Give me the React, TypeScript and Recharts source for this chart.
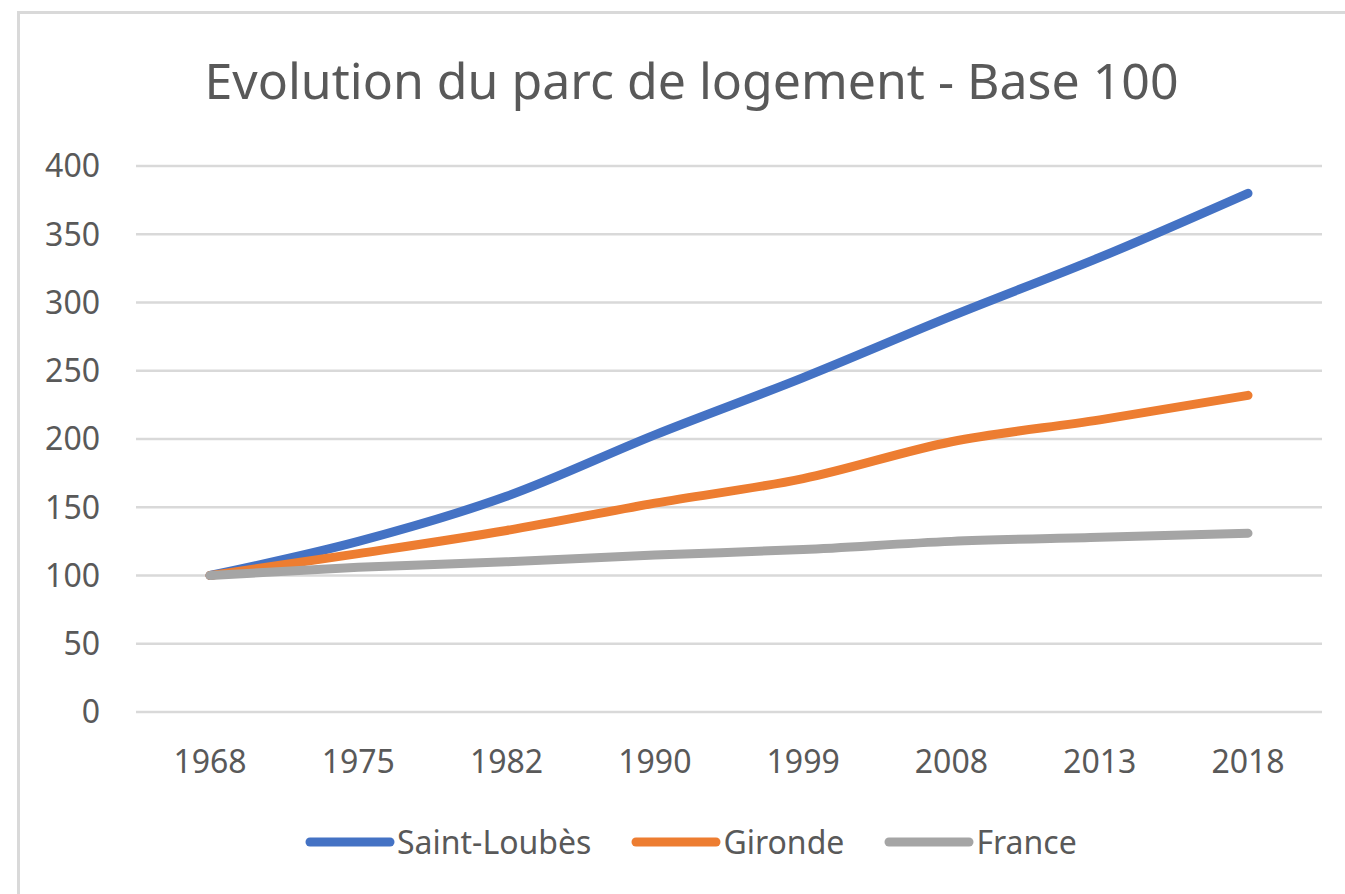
import React from 'react';
import { LineChart, Line, XAxis, YAxis, CartesianGrid, Legend } from 'recharts';

const years = ['1968', '1975', '1982', '1990', '1999', '2008', '2013', '2018'];
const seriesNames = ['Saint-Loubès', 'Gironde', 'France'];
const saintLoubes = [100, 125, 158, 203, 245, 290, 333, 380];
const gironde = [100, 116, 133, 153, 171, 198, 214, 232];
const france = [100, 106, 110, 115, 119, 125, 128, 131];
const yTicks = [0, 50, 100, 150, 200, 250, 300, 350, 400];

const data = years.map((y, i) => ({
  year: y,
  'Saint-Loubès': saintLoubes[i],
  Gironde: gironde[i],
  France: france[i],
}));

const FONT = '"Noto Sans", "Open Sans", sans-serif';
const TEXT = '#595959';

const renderLegend = (props: any) => {
  const payload = [...(props.payload || [])].sort(
    (a: any, b: any) => seriesNames.indexOf(a.value) - seriesNames.indexOf(b.value)
  );
  return (
    <div style={{ display: 'flex', alignItems: 'center', fontFamily: FONT, fontSize: 32, color: TEXT }}>
      {payload.map((entry: any, i: number) => (
        <div key={i} style={{ display: 'flex', alignItems: 'center', marginRight: 40 }}>
          <svg width={90} height={14} style={{ display: 'block' }}>
            <line x1={5} y1={7} x2={85} y2={7} stroke={entry.color} strokeWidth={9} strokeLinecap="round" />
          </svg>
          <span style={{ marginLeft: 2, lineHeight: '40px' }}>{entry.value}</span>
        </div>
      ))}
    </div>
  );
};

export default function App() {
  return (
    <div style={{ position: 'absolute', left: 0, top: 0, width: 1345, height: 894, overflow: 'hidden', background: '#fff' }}>
      <div style={{ position: 'absolute', left: 17, top: 11, width: 1400, height: 1000, border: '3px solid #D9D9D9', boxSizing: 'border-box' }} />
      <div style={{ position: 'absolute', left: 0, top: 56, width: 1383, textAlign: 'center', fontFamily: FONT, fontSize: 50, lineHeight: '48px', color: TEXT, whiteSpace: 'nowrap' }}>
        Evolution du parc de logement - Base 100
      </div>
      <div style={{ position: 'absolute', left: 0, top: 0 }}>
        <LineChart width={1345} height={894} data={data} margin={{ top: 166, right: 23, bottom: 122, left: 0 }}>
          <CartesianGrid vertical={false} stroke="#D9D9D9" strokeWidth={2.5} />
          <XAxis
            dataKey="year"
            axisLine={false}
            tickLine={false}
            height={60}
            padding={{ left: 74, right: 74 }}
            tickMargin={32}
            tick={{ fill: TEXT, fontSize: 32, fontFamily: FONT }}
            interval={0}
          />
          <YAxis
            domain={[0, 400]}
            ticks={yTicks}
            width={136}
            axisLine={false}
            tickLine={false}
            tickMargin={30}
            tick={{ fill: TEXT, fontSize: 32, fontFamily: FONT }}
          />
          <Legend
            layout="horizontal"
            align="center"
            verticalAlign="middle"
            content={renderLegend}
            wrapperStyle={{ left: 305, top: 822, width: 'auto' }}
          />
          <Line type="monotone" dataKey="Saint-Loubès" stroke="#4472C4" strokeWidth={9} strokeLinecap="round" dot={false} activeDot={false} isAnimationActive={false} />
          <Line type="monotone" dataKey="Gironde" stroke="#ED7D31" strokeWidth={9} strokeLinecap="round" dot={false} activeDot={false} isAnimationActive={false} />
          <Line type="monotone" dataKey="France" stroke="#A5A5A5" strokeWidth={9} strokeLinecap="round" dot={false} activeDot={false} isAnimationActive={false} />
        </LineChart>
      </div>
    </div>
  );
}
